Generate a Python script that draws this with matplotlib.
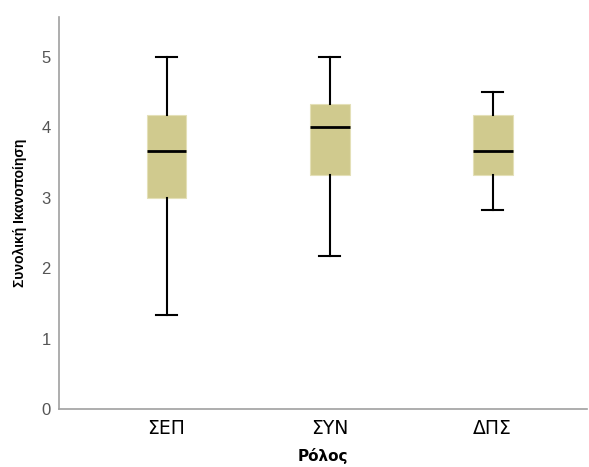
import matplotlib
matplotlib.use('Agg')
import matplotlib.pyplot as plt

plt.rcParams['font.family'] = ['Liberation Sans', 'DejaVu Sans']

roles = ['ΣΕΠ', 'ΣΥΝ', 'ΔΠΣ']
whisker_low = [1.33, 2.17, 2.83]
q1 = [3.00, 3.33, 3.33]
median = [3.67, 4.00, 3.67]
q3 = [4.17, 4.33, 4.17]
whisker_high = [5.00, 5.00, 4.50]

stats = [dict(label=r, whislo=lo, q1=a, med=m, q3=b, whishi=hi)
         for r, lo, a, m, b, hi in zip(roles, whisker_low, q1, median, q3, whisker_high)]

fig = plt.figure(figsize=(5.89, 4.67), dpi=100)
ax = fig.add_axes([0.100, 0.124, 0.897, 0.840])

ax.bxp(stats, positions=range(len(roles)), widths=0.245, patch_artist=True,
       showfliers=False, capwidths=0.13,
       boxprops=dict(facecolor='#D0CA8E', edgecolor='#E4E0B8', linewidth=0.8),
       medianprops=dict(color='black', linewidth=2),
       whiskerprops=dict(color='black', linewidth=1.5),
       capprops=dict(color='black', linewidth=1.5))

ax.set_xlim(-0.66, 2.58)
ax.set_ylim(0, 5.57)
ax.set_yticks(range(6))
ax.tick_params(axis='both', length=0)
ax.tick_params(axis='y', labelsize=12, labelcolor='#555555', pad=6)
ax.tick_params(axis='x', labelsize=13.5, labelcolor='black', pad=7)
for lbl in ax.get_xticklabels():
    lbl.set_family('DejaVu Sans')

for s in ['top', 'right']:
    ax.spines[s].set_visible(False)
for s in ['left', 'bottom']:
    ax.spines[s].set_color('#A0A0A0')
    ax.spines[s].set_linewidth(1.2)

ax.set_xlabel('Ρόλος', fontsize=11, fontweight='bold', labelpad=7,
              family='DejaVu Sans')
ax.set_ylabel('Συνολική Ικανοποίηση', fontsize=10, fontweight='bold', labelpad=10)

fig.savefig('out.png', dpi=100, facecolor='white')
